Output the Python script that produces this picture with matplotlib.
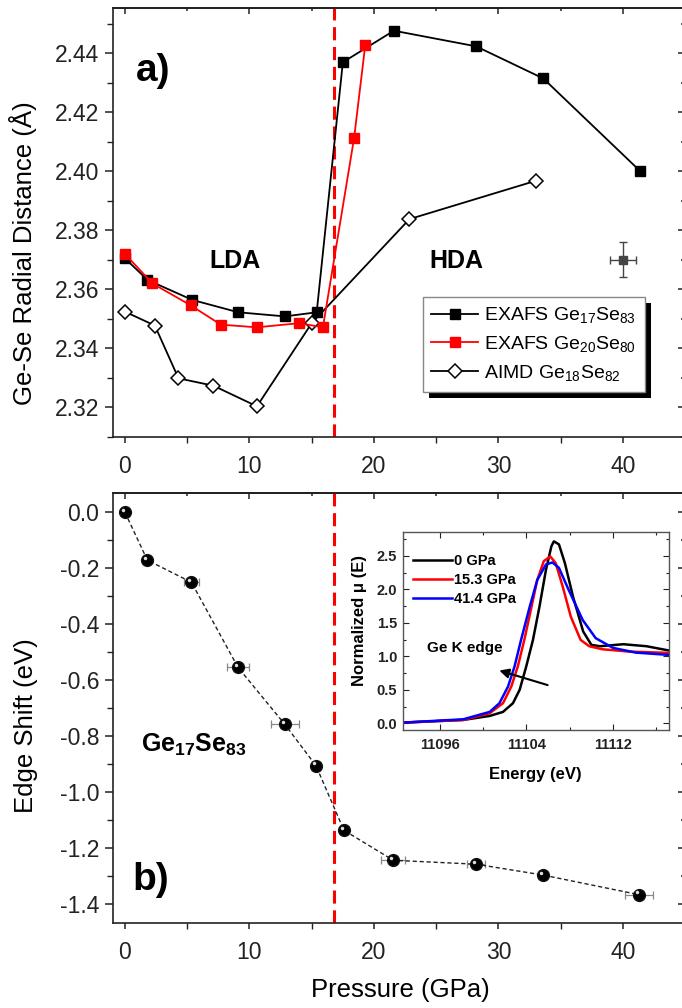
import numpy as np
import matplotlib
matplotlib.use('Agg')
import matplotlib.pyplot as plt
from matplotlib.ticker import MultipleLocator, FixedLocator
from matplotlib.transforms import ScaledTranslation
from matplotlib.patches import Rectangle

plt.rcParams['font.family'] = ['Liberation Sans', 'DejaVu Sans']
plt.rcParams['mathtext.fontset'] = 'custom'
plt.rcParams['mathtext.rm'] = 'Liberation Sans'
plt.rcParams['mathtext.bf'] = 'Liberation Sans:bold'
plt.rcParams['mathtext.default'] = 'regular'
plt.rcParams['axes.unicode_minus'] = False

# ---------------- Panel a data ----------------
p_ge17 = [0, 1.8, 5.4, 9.1, 12.85, 15.4, 17.5, 21.6, 28.2, 33.6, 41.4]
r_ge17 = [2.3705, 2.3632, 2.3564, 2.3522, 2.3508, 2.3522, 2.437, 2.4477, 2.4424, 2.4315, 2.400]
p_ge20 = [0, 2.2, 5.3, 7.7, 10.6, 14.0, 15.9, 18.4, 19.3]
r_ge20 = [2.372, 2.362, 2.3545, 2.348, 2.3471, 2.3485, 2.3471, 2.4112, 2.4428]
p_aimd = [0, 2.4, 4.3, 7.1, 10.6, 15.0, 22.85, 33.0]
r_aimd = [2.3524, 2.3477, 2.3298, 2.3273, 2.3203, 2.3485, 2.3838, 2.3968]
err_p = [40.0]
err_r = [2.370]
err_dp = [1.07]
err_dr = [0.006]
transition_p = 16.8
labels_a = ['EXAFS Ge$_{17}$Se$_{83}$', 'EXAFS Ge$_{20}$Se$_{80}$', 'AIMD Ge$_{18}$Se$_{82}$']

# ---------------- Panel b data ----------------
p_edge = [0, 1.8, 5.34, 9.08, 12.85, 15.34, 17.59, 21.55, 28.2, 33.6, 41.3]
shift_edge = [0.0, -0.171, -0.25, -0.554, -0.758, -0.905, -1.136, -1.243, -1.257, -1.296, -1.366]
p_edge_err = [0, 0, 0.6, 0.85, 1.1, 0, 0, 0.95, 0.7, 0, 1.1]

# ---------------- Inset data ----------------
E_0 = [11092.56, 11098.16, 11100.6, 11101.83, 11102.75, 11103.37, 11103.98, 11104.6, 11105.2,
       11105.8, 11106.3, 11106.53, 11107.0, 11107.55, 11108.3, 11109.24, 11110.0, 11110.8,
       11112.95, 11115.1, 11117.2]
mu_0 = [0.01, 0.05, 0.11, 0.17, 0.30, 0.50, 0.85, 1.245, 1.74,
        2.29, 2.64, 2.715, 2.67, 2.39, 1.89, 1.37, 1.17, 1.15,
        1.18, 1.15, 1.085]
E_15 = [11092.56, 11098.16, 11100.6, 11101.83, 11102.6, 11103.2, 11103.8, 11104.4, 11105.0,
        11105.6, 11106.2, 11106.7, 11107.35, 11108.1, 11109.0, 11109.8, 11111.0, 11113.5, 11117.2]
mu_15 = [0.01, 0.05, 0.15, 0.30, 0.55, 0.85, 1.245, 1.69, 2.14,
         2.42, 2.49, 2.39, 2.04, 1.59, 1.245, 1.15, 1.105, 1.07, 1.05]
E_41 = [11092.56, 11098.16, 11100.6, 11101.5, 11102.3, 11102.9, 11103.5, 11104.3, 11105.0,
        11105.8, 11106.4, 11107.0, 11107.9, 11109.2, 11110.4, 11112.0, 11114.1, 11117.2]
mu_41 = [0.01, 0.06, 0.17, 0.30, 0.55, 0.85, 1.245, 1.74, 2.14,
         2.37, 2.40, 2.32, 1.99, 1.54, 1.27, 1.125, 1.055, 1.02]
inset_labels = ['0 GPa', '15.3 GPa', '41.4 GPa']
inset_colors = ['black', '#ff0000', '#0000ff']

W, H = 682, 1008
fig = plt.figure(figsize=(W / 100, H / 100), dpi=100)

def frac_box(l, t, r, b):
    return [l / W, 1 - b / H, (r - l) / W, (b - t) / H]

def px(x, y):
    return x / W, 1 - y / H

TICK_FS = 16.5
LABEL_FS = 18.5
XLIM = (-1.0, 44.9)
RED_DASH = (0, (4.3, 2.2))

def style_main(ax):
    for s in ax.spines.values():
        s.set_linewidth(1.2)
        s.set_color('#222222')
    ax.tick_params(axis='both', which='both', top=False, right=False,
                   labelsize=TICK_FS, colors='#222222', direction='out')
    ax.tick_params(axis='y', which='major', length=6, width=1.1, pad=3.5)
    ax.tick_params(axis='y', which='minor', length=4, width=1.0)
    ax.tick_params(axis='x', which='major', length=4, width=1.1, pad=9.0)
    ax.tick_params(axis='x', which='minor', length=4, width=1.0)
    ax.xaxis.set_major_locator(MultipleLocator(10))
    ax.xaxis.set_minor_locator(MultipleLocator(5))
    ax.set_xlim(*XLIM)

def mirror(ax, ymaj, ymin):
    at = ax.secondary_xaxis('top')
    at.xaxis.set_major_locator(MultipleLocator(10))
    at.xaxis.set_minor_locator(MultipleLocator(5))
    at.tick_params(which='both', direction='in', labeltop=False, width=1.1, colors='#222222')
    at.tick_params(which='major', length=4)
    at.tick_params(which='minor', length=2.5)
    at.spines['top'].set_linewidth(1.2)
    ar = ax.secondary_yaxis('right')
    ar.yaxis.set_major_locator(MultipleLocator(ymaj))
    ar.yaxis.set_minor_locator(MultipleLocator(ymin))
    ar.tick_params(which='both', direction='in', labelright=False, width=1.1, colors='#222222')
    ar.tick_params(which='major', length=4)
    ar.tick_params(which='minor', length=2.5)

# ---------------- Panel a ----------------
ax1 = fig.add_axes(frac_box(112.5, 8.3, 684, 436.7))
style_main(ax1)
ax1.set_ylim(2.3100, 2.4553)
ax1.yaxis.set_major_locator(MultipleLocator(0.02))
ax1.yaxis.set_minor_locator(MultipleLocator(0.01))
ax1.yaxis.set_major_formatter(plt.FormatStrFormatter('%.2f'))
mirror(ax1, 0.02, 0.01)

ax1.axvline(transition_p, color='#ff0000', lw=2.2, ls=RED_DASH, zorder=1)
l1, = ax1.plot(p_ge17, r_ge17, '-s', color='black', mfc='black', mec='black', ms=6.7, lw=1.3, zorder=3)
l2, = ax1.plot(p_ge20, r_ge20, '-s', color='#ff0000', mfc='#ff0000', mec='#ff0000', ms=6.7, lw=1.3, zorder=4)
l3, = ax1.plot(p_aimd, r_aimd, '-D', color='black', mfc='white', mec='black', ms=7.5, mew=1.1, lw=1.3, zorder=3)
ax1.errorbar(err_p, err_r, xerr=err_dp, yerr=err_dr, fmt='s', color='#444444', ms=6,
             elinewidth=1.0, capsize=3, capthick=1.0, zorder=3)

fig.text(*px(23, 253), 'Ge-Se Radial Distance (Å)', fontsize=LABEL_FS, rotation=90,
         ha='center', va='center')
ax1.text(2.3, 2.434, 'a)', fontsize=28, fontweight='bold', ha='center', va='center')
ax1.text(8.85, 2.3697, 'LDA', fontsize=18, fontweight='bold', ha='center', va='center')
ax1.text(26.6, 2.3697, 'HDA', fontsize=18, fontweight='bold', ha='center', va='center')

leg = ax1.legend([l1, l2, l3], labels_a, loc='upper left', bbox_to_anchor=(23.91, 2.3575),
                 bbox_transform=ax1.transData, borderaxespad=0, fontsize=14, frameon=True,
                 fancybox=False, framealpha=1, edgecolor='#888888', handlelength=2.4,
                 handletextpad=0.3, labelspacing=0.45, borderpad=0.45, numpoints=1)
leg.get_frame().set_linewidth(1.0)
leg.set_zorder(6)
fig.canvas.draw()
bb = leg.get_window_extent()
shadow = Rectangle((bb.x0 + 6, bb.y0 - 6), bb.width, bb.height, transform=None,
                   facecolor='black', edgecolor='none', zorder=5.9, clip_on=False)
ax1.add_artist(shadow)

# ---------------- Panel b ----------------
ax2 = fig.add_axes(frac_box(112.5, 492.7, 684, 922.7))
style_main(ax2)
ax2.set_ylim(-1.466, 0.07)
ax2.yaxis.set_major_locator(MultipleLocator(0.2))
ax2.yaxis.set_minor_locator(MultipleLocator(0.1))
ax2.yaxis.set_major_formatter(plt.FormatStrFormatter('%.1f'))
mirror(ax2, 0.2, 0.1)

ax2.axvline(transition_p, color='#ff0000', lw=2.2, ls=RED_DASH, zorder=1)
ax2.errorbar(p_edge, shift_edge, xerr=p_edge_err, fmt='none', ecolor='#888888',
             elinewidth=0.9, capsize=3, capthick=0.9, zorder=2)
ax2.plot(p_edge, shift_edge, ls=(0, (3, 2)), color='#222222', lw=1.0, zorder=2)
ax2.plot(p_edge, shift_edge, 'o', color='black', ms=8.5, mec='#111111', zorder=3)
hl = ax2.transData + ScaledTranslation(-1.6 / 72, 1.6 / 72, fig.dpi_scale_trans)
ax2.plot(p_edge, shift_edge, 'o', color='#e0e0e0', ms=2.5, mec='none', transform=hl, zorder=4)

fig.text(*px(26, 725.7), 'Edge Shift (eV)', fontsize=LABEL_FS, rotation=90,
         ha='center', va='center')
ax2.text(2.06, -1.313, 'b)', fontsize=28, fontweight='bold', ha='center', va='center')
ax2.text(1.26, -0.855, 'Ge$_{17}$Se$_{83}$', fontsize=18, fontweight='bold', ha='left', va='baseline')
fig.text(*px(400, 990), 'Pressure (GPa)', fontsize=LABEL_FS, ha='center', va='center')

# ---------------- Inset ----------------
axi = fig.add_axes(frac_box(402.7, 532.3, 669.3, 730))
for s in axi.spines.values():
    s.set_linewidth(1.0)
    s.set_color('#555555')
axi.set_xlim(11092.56, 11117.2)
axi.set_ylim(-0.10, 2.85)
axi.xaxis.set_major_locator(FixedLocator([11096, 11104, 11112]))
axi.xaxis.set_minor_locator(FixedLocator([11100, 11108, 11116]))
axi.yaxis.set_major_locator(MultipleLocator(0.5))
axi.yaxis.set_minor_locator(MultipleLocator(0.25))
axi.yaxis.set_major_formatter(plt.FormatStrFormatter('%.1f'))
axi.tick_params(which='both', direction='in', top=True, right=True, labelsize=10.5,
                width=0.8, colors='#222222')
axi.tick_params(which='major', length=4)
axi.tick_params(which='minor', length=2.5)
axi.tick_params(axis='x', pad=6)
axi.tick_params(axis='y', pad=4)
for t in axi.get_xticklabels() + axi.get_yticklabels():
    t.set_fontweight('bold')
hs = []
for E, mu, c in zip([E_0, E_15, E_41], [mu_0, mu_15, mu_41], inset_colors):
    h, = axi.plot(E, mu, color=c, lw=1.8, solid_joinstyle='round')
    hs.append(h)
axi.legend(hs, inset_labels, loc='upper left', bbox_to_anchor=(0.0, 0.94), frameon=False,
           prop={'weight': 'bold', 'size': 10.5}, handlelength=2.7, handletextpad=0.15,
           labelspacing=0.33, borderaxespad=0.3)
fig.text(*px(535.7, 775), 'Energy (eV)', fontsize=12, fontweight='bold', ha='center', va='center')
fig.text(*px(359.3, 621), 'Normalized μ (E)', fontsize=12, fontweight='bold', rotation=90,
         ha='center', va='center')
axi.text(11094.8, 1.13, 'Ge K edge', fontsize=11, fontweight='bold', ha='left', va='center')
axi.annotate('', xy=(11101.24, 0.80), xytext=(11106.2, 0.558),
             arrowprops=dict(arrowstyle='-|>', color='black', lw=1.5, mutation_scale=14))

fig.savefig('out.png', dpi=100)
